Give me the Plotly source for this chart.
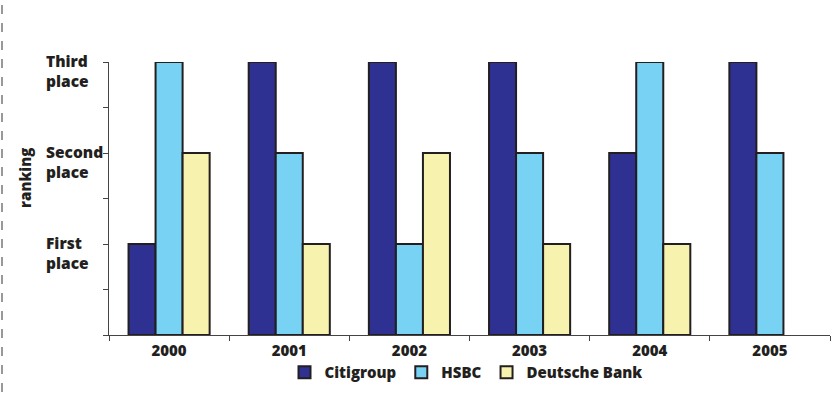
import plotly.graph_objects as go

years = ["2000", "2001", "2002", "2003", "2004", "2005"]
citigroup = [1, 3, 3, 3, 2, 3]
hsbc = [3, 2, 1, 2, 3, 2]
deutsche = [2, 1, 2, 1, 1, None]

series_names = ["Citigroup", "HSBC", "Deutsche Bank"]
series_colors = ["#2E3192", "#78D2F4", "#F7F2AE"]

rank_values = [1, 2, 3]
rank_labels = ["First<br>place", "Second<br>place", "Third<br>place"]

FONT = "Open Sans"
TXT = "#231F20"
WT = 800

fig = go.Figure()
for name, vals, col in zip(series_names, [citigroup, hsbc, deutsche], series_colors):
    fig.add_trace(go.Bar(
        x=years, y=vals, name=name,
        marker=dict(color=col, line=dict(color="#231F20", width=2)),
    ))

W, H = 834, 397
ml, mr, mt, mb = 109, 4, 62, 62
pw = W - ml - mr
ph = H - mt - mb

for v, lab in zip(rank_values, rank_labels):
    fig.add_annotation(
        x=(44 - ml) / pw, xref="paper", y=v, yref="y",
        text=lab, showarrow=False,
        xanchor="left", yanchor="top", align="left", yshift=14,
        font=dict(family=FONT, size=15.5, color=TXT, weight=WT),
    )

fig.add_annotation(
    x=(25 - ml) / pw, xref="paper", y=(H - mb - 178) / ph, yref="paper",
    text="ranking", textangle=-90, showarrow=False,
    xanchor="center", yanchor="middle",
    font=dict(family=FONT, size=15, color=TXT, weight=WT),
)

fig.add_shape(
    type="line", xref="paper", yref="paper",
    x0=(2 - ml) / pw, x1=(2 - ml) / pw, y0=-1, y1=2,
    line=dict(color="#555555", width=1.2, dash="dash"),
)

fig.update_layout(
    width=W, height=H,
    margin=dict(l=ml, r=mr, t=mt, b=mb, autoexpand=False),
    paper_bgcolor="white", plot_bgcolor="white",
    barmode="group", bargap=0.325, bargroupgap=0,
    font=dict(family=FONT, color=TXT),
    showlegend=True,
    legend=dict(
        orientation="h", x=(466 - ml) / pw, xanchor="center",
        y=-(356 - (H - mb)) / ph, yanchor="top",
        font=dict(family=FONT, size=15, color=TXT, weight=WT),
        itemwidth=30, tracegroupgap=0,
        bgcolor="rgba(0,0,0,0)",
    ),
    xaxis=dict(
        type="category", tickson="boundaries",
        ticks="outside", ticklen=5, tickcolor="#444", tickwidth=1,
        showline=True, linecolor="#444", linewidth=1.2,
        tickfont=dict(family=FONT, size=15, color=TXT, weight=WT),
        ticklabelstandoff=2,
        showgrid=False, zeroline=False, range=[-0.5, 5.5],
    ),
    yaxis=dict(
        range=[0, 3], tickvals=[0, 0.5, 1, 1.5, 2, 2.5, 3],
        ticks="outside", ticklen=5, tickcolor="#444", tickwidth=1,
        showticklabels=False,
        showline=True, linecolor="#444", linewidth=1.2,
        showgrid=False, zeroline=False,
    ),
)

fig.write_html("out.html")
